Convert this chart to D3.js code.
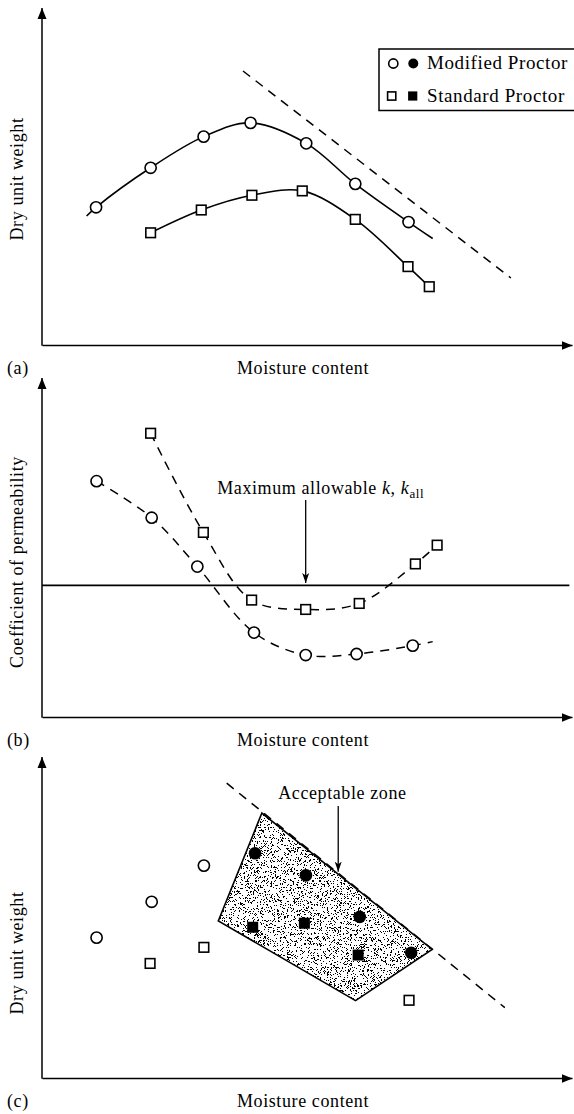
<!DOCTYPE html>
<html><head><meta charset="utf-8">
<script src="https://cdn.jsdelivr.net/npm/d3@7"></script>
<style>
html,body{margin:0;padding:0;background:#fff;}
svg text{font-family:'Liberation Serif','Times New Roman',serif;font-size:18px;letter-spacing:0.6px;fill:#000;}
</style>
</head><body>
<script>
// ---------------- DATA ----------------
// Panel (a): compaction curves (moisture content vs dry unit weight, arbitrary units)
const modMoistureA = [8.06, 10.14, 12.16, 13.95, 16.07, 17.94, 19.97];
const modGammaA    = [41.1, 52.9, 62.2, 66.3, 60.2, 48.1, 36.7];
const modCurveEndsMoistureA = [7.70, 20.89];
const modCurveEndsGammaA    = [38.5, 31.8];
const stdMoistureA = [10.14, 12.07, 14.0, 15.92, 17.94, 19.95, 20.76];
const stdGammaA    = [33.5, 40.3, 44.7, 46.0, 37.5, 23.4, 17.4];
const optLineMoistureA = [13.66, 23.87];
const optLineGammaA    = [81.8, 20.0];
const legendLabels = ["Modified Proctor", "Standard Proctor"];

// Panel (b): permeability
const modMoistureB = [8.08, 10.18, 11.92, 14.08, 16.05, 17.99, 20.13];
const modKB        = [70.4, 59.5, 44.9, 25.2, 18.5, 18.8, 21.3];
const modCurveEndMoistureB = 20.89, modCurveEndKB = 22.5;
const stdMoistureB = [10.14, 12.15, 13.99, 16.05, 18.09, 20.23, 21.06];
const stdKB        = [84.7, 55.1, 34.9, 32.1, 33.9, 45.7, 51.3];
const kAll = 39.3;
const kAllArrowMoisture = 16.05, kAllArrowFrom = 64.8, kAllArrowTo = 40.0, kAllTextY = 66.6;

// Panel (c): acceptable zone
const openCircleMoistureC = [8.08, 10.18, 12.17];
const openCircleGammaC    = [41.9, 52.6, 63.4];
const filledCircleMoistureC = [14.12, 16.06, 18.11, 20.07];
const filledCircleGammaC    = [67.1, 60.5, 48.1, 37.4];
const openSquareMoistureC = [10.12, 12.17, 19.99];
const openSquareGammaC    = [34.2, 39.0, 23.2];
const filledSquareMoistureC = [14.03, 16.0, 18.05];
const filledSquareGammaC    = [45.0, 46.2, 36.7];
const zoneMoistureC = [14.38, 12.72, 17.95, 20.87];
const zoneGammaC    = [79.1, 46.9, 23.1, 38.4];
const optLineMoistureC = [13.04, 23.64];
const optLineGammaC    = [88.0, 21.0];
const zoneTextMoisture = 17.45, zoneTextY = 83.3;
const zoneArrowMoisture = 17.29, zoneArrowFrom = 81.2, zoneArrowTo = 61.6;

const panelLabels = ["(a)", "(b)", "(c)"];
const xTitle = "Moisture content";
const yTitles = ["Dry unit weight", "Coefficient of permeability", "Dry unit weight"];

// ---------------- LAYOUT ----------------
const W = 574, H = 1114;
const svg = d3.select("body").append("svg").attr("width", W).attr("height", H);
svg.append("rect").attr("width", W).attr("height", H).attr("fill", "#fff");

const defs = svg.append("defs");
defs.append("marker").attr("id", "axArrow").attr("markerUnits", "userSpaceOnUse")
  .attr("viewBox", "0 0 11 10").attr("refX", 11).attr("refY", 5)
  .attr("markerWidth", 11).attr("markerHeight", 10).attr("orient", "auto")
  .append("path").attr("d", "M0,0.5 L11,5 L0,9.5 Z").attr("fill", "#000");
defs.append("marker").attr("id", "smArrow").attr("markerUnits", "userSpaceOnUse")
  .attr("viewBox", "0 0 10 8").attr("refX", 10).attr("refY", 4)
  .attr("markerWidth", 10).attr("markerHeight", 8).attr("orient", "auto")
  .append("path").attr("d", "M0,0.5 L10,4 L0,7.5 L2.5,4 Z").attr("fill", "#000");

const f = defs.append("filter").attr("id", "stipple").attr("x", "0").attr("y", "0").attr("width", "1").attr("height", "1");
f.append("feTurbulence").attr("type", "fractalNoise").attr("baseFrequency", "1.7").attr("numOctaves", "1").attr("seed", "5").attr("result", "n");
f.append("feColorMatrix").attr("in", "n").attr("type", "matrix")
  .attr("values", "0 0 0 0 0  0 0 0 0 0  0 0 0 0 0  1 0 0 0 0").attr("result", "a");
f.append("feComponentTransfer").attr("in", "a").attr("result", "b")
  .append("feFuncA").attr("type", "discrete").attr("tableValues", "1 1 1 1 1 1 1 1 0 0 0 0 0 0 0 0 0 0 0 0");
f.append("feComposite").attr("in", "b").attr("in2", "SourceGraphic").attr("operator", "in");

const x = d3.scaleLinear().domain([6, 26.2]).range([42, 572]);
const panels = [
  { axisY: 345, tipY: 8,   y: d3.scaleLinear().domain([0, 100]).range([345, 10]), yTitleC: 179 },
  { axisY: 717, tipY: 378, y: d3.scaleLinear().domain([0, 100]).range([717, 382]), yTitleC: 562 },
  { axisY: 1078, tipY: 757, y: d3.scaleLinear().domain([0, 100]).range([1078, 743]), yTitleC: 953 }
];

panels.forEach((p, i) => {
  const g = svg.append("g");
  const ax = g.append("g").attr("transform", `translate(0,${p.axisY})`)
    .call(d3.axisBottom(x).tickValues([]).tickSizeOuter(0));
  ax.select(".domain").attr("stroke", "#000").attr("stroke-width", 1.5).attr("marker-end", "url(#axArrow)");
  const yAxisScale = d3.scaleLinear().domain([0, 1]).range([p.axisY + 0.75, p.tipY]);
  const ay = g.append("g").attr("transform", `translate(${x(6)},0)`)
    .call(d3.axisLeft(yAxisScale).tickValues([]).tickSizeOuter(0));
  ay.select(".domain").attr("stroke", "#000").attr("stroke-width", 1.5)
    .attr("d", `M0,${p.axisY + 0.75}V${p.tipY}`).attr("marker-end", "url(#axArrow)");
  g.append("text").attr("x", 7).attr("y", p.axisY + 29).text(panelLabels[i]);
  g.append("text").attr("x", 303).attr("y", p.axisY + 29).attr("text-anchor", "middle").text(xTitle);
  g.append("text").attr("transform", `translate(23,${p.yTitleC}) rotate(-90)`)
    .attr("text-anchor", "middle").text(yTitles[i]);
});

function openCircle(g, cx, cy, r) {
  g.append("circle").attr("cx", cx).attr("cy", cy).attr("r", r || 5.6)
    .attr("fill", "#fff").attr("stroke", "#000").attr("stroke-width", 1.6);
}
function filledCircle(g, cx, cy, r) {
  g.append("circle").attr("cx", cx).attr("cy", cy).attr("r", r || 6.3).attr("fill", "#000");
}
function openSquare(g, cx, cy, s) {
  s = s || 9.6;
  g.append("rect").attr("x", cx - s / 2).attr("y", cy - s / 2).attr("width", s).attr("height", s)
    .attr("fill", "#fff").attr("stroke", "#000").attr("stroke-width", 1.6);
}
function filledSquare(g, cx, cy, s) {
  s = s || 11;
  g.append("rect").attr("x", cx - s / 2).attr("y", cy - s / 2).attr("width", s).attr("height", s).attr("fill", "#000");
}
const cr = d3.curveCatmullRom.alpha(0.5);

// ---------------- PANEL (a) ----------------
{
  const y = panels[0].y, g = svg.append("g");
  g.append("path").datum(d3.zip(optLineMoistureA, optLineGammaA))
    .attr("d", d3.line().x(d => x(d[0])).y(d => y(d[1])))
    .attr("fill", "none").attr("stroke", "#000").attr("stroke-width", 1.5).attr("stroke-dasharray", "9,7");
  const modPts = [[modCurveEndsMoistureA[0], modCurveEndsGammaA[0]]]
    .concat(d3.zip(modMoistureA, modGammaA))
    .concat([[modCurveEndsMoistureA[1], modCurveEndsGammaA[1]]]);
  g.append("path").datum(modPts).attr("d", d3.line().curve(cr).x(d => x(d[0])).y(d => y(d[1])))
    .attr("fill", "none").attr("stroke", "#000").attr("stroke-width", 1.6);
  g.append("path").datum(d3.zip(stdMoistureA, stdGammaA)).attr("d", d3.line().curve(cr).x(d => x(d[0])).y(d => y(d[1])))
    .attr("fill", "none").attr("stroke", "#000").attr("stroke-width", 1.6);
  modMoistureA.forEach((m, i) => openCircle(g, x(m), y(modGammaA[i])));
  stdMoistureA.forEach((m, i) => openSquare(g, x(m), y(stdGammaA[i])));
  // legend
  const lg = svg.append("g");
  lg.append("rect").attr("x", 379).attr("y", 49).attr("width", 260).attr("height", 61.5)
    .attr("fill", "#fff").attr("stroke", "#000").attr("stroke-width", 1.5);
  openCircle(lg, 393.3, 63.5, 4.6);
  filledCircle(lg, 413.3, 63.5, 5.0);
  lg.append("text").attr("x", 427).attr("y", 68.5).style("font-size", "19px").text(legendLabels[0]);
  openSquare(lg, 391.7, 96, 8.2);
  filledSquare(lg, 412.7, 96, 9.2);
  lg.append("text").attr("x", 427).attr("y", 102).style("font-size", "19px").text(legendLabels[1]);
}

// ---------------- PANEL (b) ----------------
{
  const y = panels[1].y, g = svg.append("g");
  g.append("line").attr("x1", x(6)).attr("x2", x(26.1)).attr("y1", y(kAll)).attr("y2", y(kAll))
    .attr("stroke", "#000").attr("stroke-width", 1.6);
  const modPts = d3.zip(modMoistureB, modKB).concat([[modCurveEndMoistureB, modCurveEndKB]]);
  g.append("path").datum(modPts).attr("d", d3.line().curve(cr).x(d => x(d[0])).y(d => y(d[1])))
    .attr("fill", "none").attr("stroke", "#000").attr("stroke-width", 1.5).attr("stroke-dasharray", "9,7");
  g.append("path").datum(d3.zip(stdMoistureB, stdKB)).attr("d", d3.line().curve(cr).x(d => x(d[0])).y(d => y(d[1])))
    .attr("fill", "none").attr("stroke", "#000").attr("stroke-width", 1.5).attr("stroke-dasharray", "9,7");
  modMoistureB.forEach((m, i) => openCircle(g, x(m), y(modKB[i])));
  stdMoistureB.forEach((m, i) => openSquare(g, x(m), y(stdKB[i])));
  g.append("line").attr("x1", x(kAllArrowMoisture)).attr("x2", x(kAllArrowMoisture))
    .attr("y1", y(kAllArrowFrom)).attr("y2", y(kAllArrowTo))
    .attr("stroke", "#000").attr("stroke-width", 1.3).attr("marker-end", "url(#smArrow)");
  const t = g.append("text").attr("x", x(kAllArrowMoisture) + 15).attr("y", y(kAllTextY)).attr("text-anchor", "middle");
  t.append("tspan").text("Maximum allowable ");
  t.append("tspan").attr("font-style", "italic").text("k");
  t.append("tspan").text(", ");
  t.append("tspan").attr("font-style", "italic").text("k");
  t.append("tspan").attr("font-size", "13px").attr("dy", 4).text("all");
}

// ---------------- PANEL (c) ----------------
{
  const y = panels[2].y, g = svg.append("g");
  g.append("path").datum(d3.zip(optLineMoistureC, optLineGammaC))
    .attr("d", d3.line().x(d => x(d[0])).y(d => y(d[1])))
    .attr("fill", "none").attr("stroke", "#000").attr("stroke-width", 1.5).attr("stroke-dasharray", "9,7");
  const zone = d3.zip(zoneMoistureC, zoneGammaC);
  const zl = d3.line().x(d => x(d[0])).y(d => y(d[1]));
  g.append("path").datum(zone).attr("d", zl(zone) + "Z").attr("fill", "#fff");
  g.append("path").datum(zone).attr("d", zl(zone) + "Z").attr("fill", "#000").attr("filter", "url(#stipple)");
  g.append("path").datum(zone).attr("d", zl(zone) + "Z").attr("fill", "none")
    .attr("stroke", "#000").attr("stroke-width", 1.6).attr("stroke-linejoin", "miter");
  openCircleMoistureC.forEach((m, i) => openCircle(g, x(m), y(openCircleGammaC[i])));
  filledCircleMoistureC.forEach((m, i) => filledCircle(g, x(m), y(filledCircleGammaC[i])));
  openSquareMoistureC.forEach((m, i) => openSquare(g, x(m), y(openSquareGammaC[i])));
  filledSquareMoistureC.forEach((m, i) => filledSquare(g, x(m), y(filledSquareGammaC[i])));
  g.append("text").attr("x", x(zoneTextMoisture)).attr("y", y(zoneTextY)).attr("text-anchor", "middle").text("Acceptable zone");
  g.append("line").attr("x1", x(zoneArrowMoisture)).attr("x2", x(zoneArrowMoisture))
    .attr("y1", y(zoneArrowFrom)).attr("y2", y(zoneArrowTo))
    .attr("stroke", "#000").attr("stroke-width", 1.3).attr("marker-end", "url(#smArrow)");
}
</script>
</body></html>
